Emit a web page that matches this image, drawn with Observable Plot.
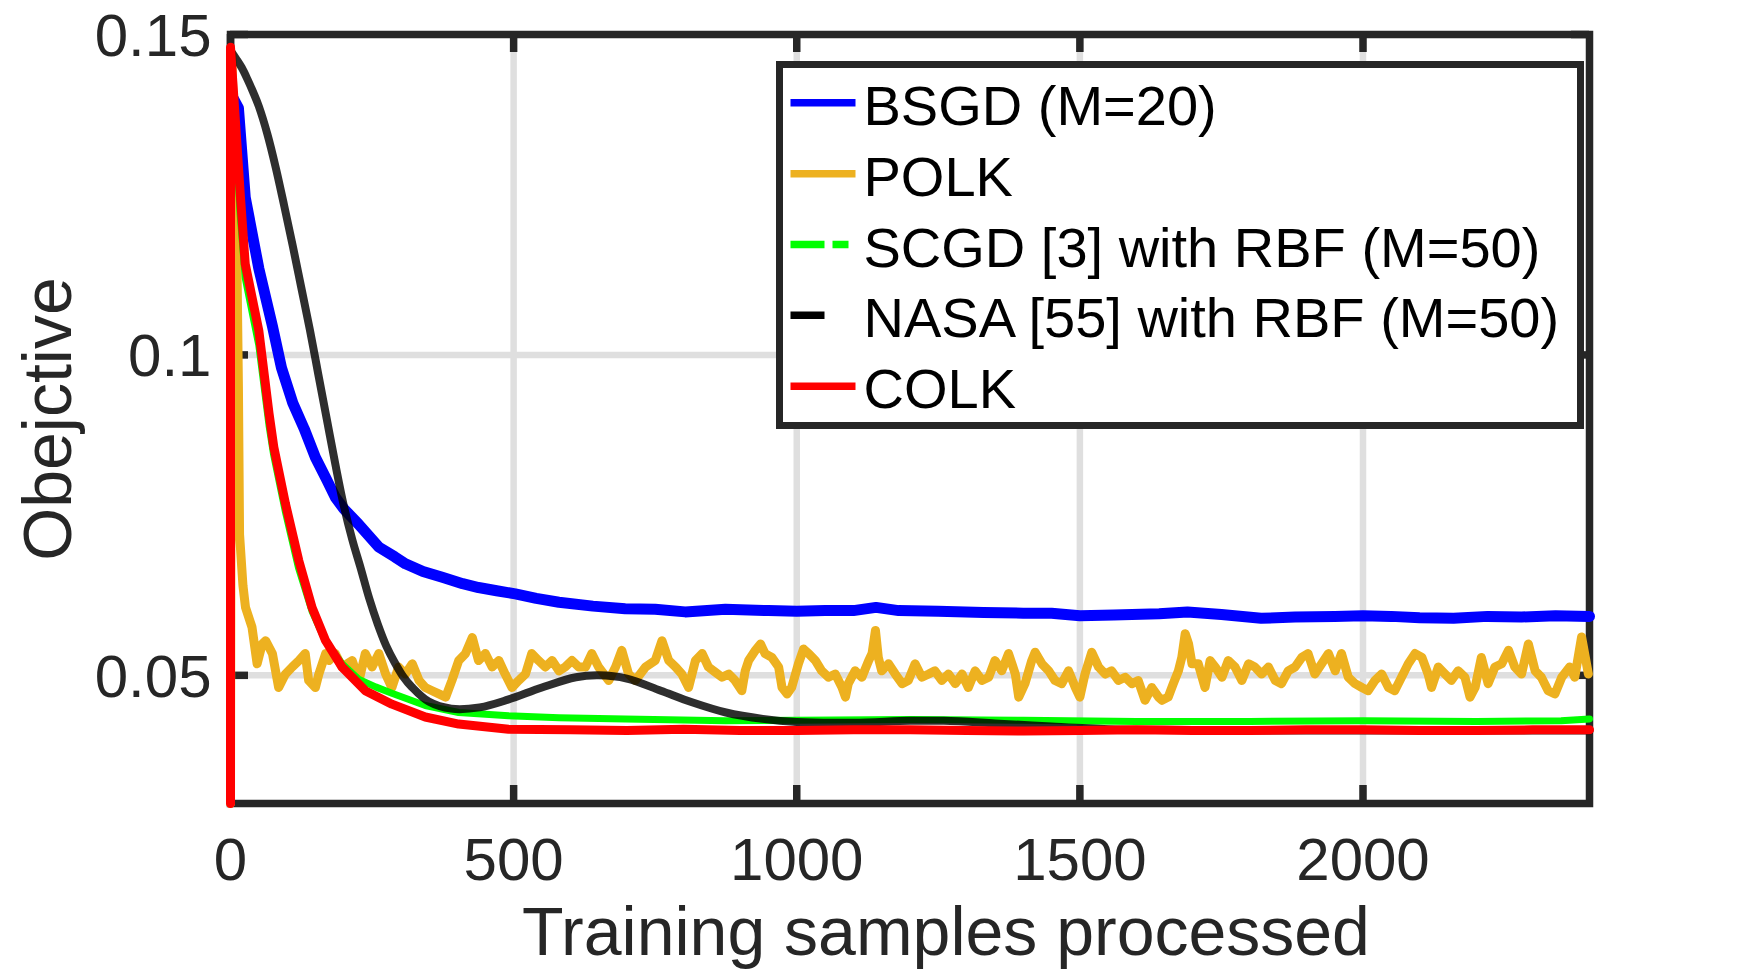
<!DOCTYPE html>
<html><head><meta charset="utf-8">
<script src="https://cdn.jsdelivr.net/npm/d3@7"></script>
<script src="https://cdn.jsdelivr.net/npm/@observablehq/plot@0.6"></script>
<style>
html,body{margin:0;padding:0;background:#fff;}
#wrap{position:relative;width:1757px;height:975px;font-family:"Liberation Sans",Arial,Helvetica,sans-serif;}
#wrap > svg{position:absolute;left:0;top:0;}
#legend{position:absolute;left:776px;top:61px;width:808px;height:368px;box-sizing:border-box;border:7.5px solid #262626;background:#fff;}
#legend svg{position:absolute;left:0;top:0;}
</style></head><body><div id="wrap"></div>
<script>
// ---- data ----
const xTicks = [0, 500, 1000, 1500, 2000];
const xTickLabels = ["0", "500", "1000", "1500", "2000"];
const yTicks = [0.05, 0.1, 0.15];
const yTickLabels = ["0.05", "0.1", "0.15"];
const xLabel = "Training samples processed";
const yLabel = "Obejctive";
const seriesNames = ["BSGD (M=20)", "POLK", "SCGD [3] with RBF (M=50)", "NASA [55] with RBF (M=50)", "COLK"];
const seriesColors = ["#0000ff", "#edb120", "#00ff00", "#000000", "#ff0000"];

const bsgd = [[5,0.1400],[14,0.1385],[26,0.1246],[50,0.1135],[74,0.1045],[90,0.0980],[110,0.0925],[130,0.0885],[150,0.0840],[170,0.0805],[185,0.0778],[200,0.0760],[226,0.0736],[262,0.0700],[290,0.0685],[309,0.0674],[340,0.0662],[374,0.0653],[410,0.0643],[438,0.0637],[470,0.0632],[503,0.0627],[540,0.0620],[580,0.0614],[640,0.0608],[697,0.0604],[750,0.0603],[803,0.0599],[874,0.0603],[950,0.0601],[1000,0.0600],[1050,0.0601],[1100,0.0601],[1140,0.0606],[1180,0.0601],[1250,0.0600],[1330,0.0598],[1400,0.0597],[1450,0.0597],[1500,0.0593],[1560,0.0594],[1640,0.0596],[1690,0.0599],[1750,0.0595],[1820,0.0589],[1880,0.0591],[1950,0.0592],[2000,0.0593],[2050,0.0592],[2100,0.0590],[2160,0.0589],[2220,0.0592],[2280,0.0591],[2340,0.0593],[2400,0.0592]];

const polk = [[0,0.030],[2,0.147],[10,0.125],[14,0.095],[16,0.072],[22,0.064],[26.5,0.0606],[38,0.0575],[47,0.0518],[56,0.0549],[62,0.0554],[74,0.0534],[85,0.0481],[97,0.0502],[109,0.0513],[121,0.0523],[132,0.0534],[138,0.0492],[150,0.0481],[156,0.0502],[168,0.0534],[174,0.0523],[185,0.0534],[197,0.0513],[215,0.0523],[227,0.0492],[238,0.0534],[250,0.0513],[262,0.0534],[274,0.0502],[285,0.0481],[297,0.0513],[309,0.0502],[321,0.0518],[333,0.0492],[344,0.0481],[356,0.0476],[368,0.0471],[380,0.0466],[391,0.0492],[403,0.0523],[415,0.0534],[427,0.0559],[438,0.0523],[450,0.0534],[462,0.0513],[474,0.0523],[485,0.0502],[497,0.0481],[509,0.0492],[521,0.0502],[532,0.0534],[544,0.0523],[556,0.0513],[568,0.0523],[580,0.0507],[591,0.0513],[603,0.0523],[615,0.0513],[627,0.0513],[638,0.0534],[650,0.0513],[668,0.0492],[680,0.0513],[691,0.0539],[703,0.0502],[715,0.0492],[733,0.0513],[750,0.0523],[762,0.0554],[774,0.0523],[786,0.0513],[797,0.0502],[809,0.0481],[821,0.0523],[833,0.0534],[844,0.0513],[856,0.0505],[868,0.0497],[880,0.0502],[891,0.0492],[903,0.0476],[909,0.0507],[915,0.0523],[927,0.0539],[936,0.0549],[944,0.0534],[956,0.0528],[968,0.0513],[974,0.0481],[983,0.0471],[991,0.0481],[1003,0.0518],[1012,0.0541],[1021,0.0534],[1033,0.0523],[1044,0.0507],[1056,0.0497],[1068,0.0502],[1080,0.0481],[1086,0.0466],[1091,0.0487],[1103,0.0507],[1115,0.0497],[1127,0.0523],[1133,0.0534],[1139,0.0570],[1144,0.0528],[1150,0.0507],[1162,0.0518],[1174,0.0502],[1186,0.0487],[1197,0.0492],[1209,0.0518],[1221,0.0497],[1233,0.0502],[1244,0.0507],[1256,0.0492],[1268,0.0502],[1280,0.0487],[1292,0.0502],[1303,0.0481],[1315,0.0507],[1327,0.0492],[1339,0.0497],[1350,0.0523],[1362,0.0507],[1374,0.0534],[1386,0.0502],[1392,0.0466],[1403,0.0487],[1415,0.0523],[1421,0.0536],[1433,0.0518],[1445,0.0507],[1456,0.0492],[1468,0.0487],[1480,0.0507],[1492,0.0481],[1500,0.0466],[1509,0.0502],[1521,0.0536],[1533,0.0513],[1545,0.0502],[1556,0.0507],[1568,0.0492],[1580,0.0497],[1592,0.0487],[1603,0.0492],[1615,0.0461],[1627,0.0481],[1639,0.0466],[1645,0.0461],[1656,0.0466],[1665,0.0487],[1674,0.0507],[1680,0.0528],[1686,0.0565],[1692,0.0549],[1698,0.0518],[1709,0.0518],[1721,0.0481],[1730,0.0523],[1739,0.0513],[1751,0.0497],[1762,0.0523],[1774,0.0513],[1786,0.0492],[1798,0.0518],[1809,0.0513],[1821,0.0502],[1833,0.0513],[1845,0.0492],[1856,0.0487],[1868,0.0507],[1880,0.0513],[1892,0.0528],[1903,0.0534],[1915,0.0502],[1927,0.0518],[1939,0.0534],[1951,0.0507],[1962,0.0534],[1974,0.0497],[1986,0.0487],[1998,0.0481],[2009,0.0476],[2021,0.0492],[2033,0.0502],[2045,0.0481],[2056,0.0476],[2068,0.0497],[2080,0.0518],[2092,0.0534],[2104,0.0528],[2115,0.0502],[2121,0.0481],[2133,0.0513],[2145,0.0502],[2156,0.0492],[2168,0.0507],[2180,0.0497],[2189,0.0466],[2198,0.0481],[2209,0.0528],[2221,0.0487],[2233,0.0513],[2245,0.0518],[2257,0.0539],[2268,0.0513],[2280,0.0502],[2292,0.0549],[2304,0.0507],[2315,0.0497],[2327,0.0476],[2339,0.0471],[2351,0.0497],[2365,0.0513],[2374,0.0497],[2386,0.0560],[2398,0.0502]];

const scgd = [[0,0.148],[9,0.134],[17,0.122],[26,0.112],[50,0.1015],[68,0.089],[76,0.0845],[97,0.0755],[120,0.0668],[144,0.0600],[168,0.0553],[197,0.0518],[226,0.0494],[256,0.0482],[285,0.0472],[344,0.0453],[403,0.0442],[491,0.0437],[580,0.0434],[697,0.0432],[874,0.0429],[1000,0.0430],[1200,0.0431],[1400,0.0430],[1600,0.0428],[1800,0.0428],[2000,0.0429],[2200,0.0428],[2350,0.0429],[2400,0.0432]];

const nasa = [[0,0.1475],[10,0.1462],[20,0.1448],[30,0.1430],[40,0.1410],[50,0.1388],[65,0.1345],[80,0.1292],[95,0.1232],[110,0.1170],[125,0.1105],[140,0.1040],[155,0.0970],[170,0.0900],[185,0.0830],[200,0.0765],[215,0.0712],[230,0.0667],[245,0.0620],[260,0.0580],[275,0.0546],[290,0.0520],[305,0.0498],[320,0.0482],[350,0.0459],[390,0.0448],[440,0.0450],[490,0.0462],[550,0.0481],[610,0.0497],[650,0.0500],[700,0.0495],[760,0.0476],[815,0.0458],[875,0.0442],[940,0.0432],[1000,0.0427],[1100,0.0426],[1200,0.0429],[1260,0.0429],[1350,0.0425],[1450,0.0420],[1550,0.0416],[1650,0.0415],[1800,0.0414],[2000,0.0414],[2200,0.0414],[2400,0.0414]];

const colk = [[0,0.030],[0,0.148],[9,0.1361],[17.6,0.1246],[26,0.1142],[50,0.1038],[68,0.0909],[76.5,0.0856],[97,0.0768],[120.6,0.0679],[144,0.0606],[168,0.0554],[197,0.0513],[238,0.0476],[285,0.0455],[344,0.0435],[403,0.0424],[491,0.0416],[600,0.0415],[700,0.0414],[800,0.0416],[900,0.0414],[1000,0.0414],[1100,0.0415],[1200,0.0415],[1300,0.0414],[1400,0.0413],[1500,0.0414],[1600,0.0415],[1700,0.0414],[1800,0.0414],[1900,0.0415],[2000,0.0415],[2100,0.0414],[2200,0.0414],[2300,0.0415],[2400,0.0415]];

// ---- styles ----
const seriesData = [bsgd, polk, scgd, nasa, colk];
const lineWidths = [11, 9, 7, 8, 9];
const lineOpacity = [1, 1, 1, 0.82, 1];
const lineCurves = ["linear", "linear", "linear", "catmull-rom", "linear"];
const FONT = '"Liberation Sans", Arial, Helvetica, sans-serif';
const AX = "#262626";

const W = 1757, H = 975;
const mL = 230, mR = 168, mT = 34, mB = 172;
const plotW = W - mL - mR, plotH = H - mT - mB;
const tickLen = 18;

const lineMarks = seriesData.map((pts, i) =>
  Plot.line(pts, {x: d => d[0], y: d => d[1], stroke: seriesColors[i], strokeWidth: lineWidths[i],
    strokeOpacity: lineOpacity[i], curve: lineCurves[i], strokeLinejoin: "round", strokeLinecap: "round"}));

const chart = Plot.plot({
  width: W, height: H,
  marginLeft: mL, marginRight: mR, marginTop: mT, marginBottom: mB,
  x: {domain: [0, 2400]},
  y: {domain: [0.03, 0.15]},
  style: {fontFamily: FONT, background: "#fff", color: AX, overflow: "visible"},
  marks: [
    Plot.gridX(xTicks, {stroke: "#dfdfdf", strokeOpacity: 1, strokeWidth: 6.5}),
    Plot.gridY(yTicks, {stroke: "#dfdfdf", strokeOpacity: 1, strokeWidth: 6.5}),
    Plot.frame({stroke: AX, strokeWidth: 7.5}),
    Plot.tickX(xTicks, {x: d => d, stroke: AX, strokeWidth: 7.5, insetTop: plotH - tickLen}),
    Plot.tickX(xTicks, {x: d => d, stroke: AX, strokeWidth: 7.5, insetBottom: plotH - tickLen}),
    Plot.tickY(yTicks, {y: d => d, stroke: AX, strokeWidth: 7.5, insetRight: plotW - tickLen}),
    Plot.tickY(yTicks, {y: d => d, stroke: AX, strokeWidth: 7.5, insetLeft: plotW - tickLen}),
    Plot.axisX(xTicks, {tickSize: 0, tickPadding: 34, fontSize: 60, fill: AX, label: null,
      tickFormat: d => xTickLabels[xTicks.indexOf(d)]}),
    Plot.axisY(yTicks, {tickSize: 0, tickPadding: 19, fontSize: 60, fill: AX, label: null, dy: 2,
      tickFormat: d => yTickLabels[yTicks.indexOf(d)]}),
    Plot.text([xLabel], {frameAnchor: "bottom", text: d => d, dx: 36, dy: 151, lineAnchor: "bottom", fontSize: 68, fill: AX}),
    Plot.text([yLabel], {frameAnchor: "left", text: d => d, rotate: -90, dx: -160, textAnchor: "middle", lineAnchor: "bottom", fontSize: 68, fill: AX}),
    ...lineMarks
  ]
});

const wrap = document.getElementById("wrap");
wrap.appendChild(chart);

// ---- legend (inside the axes box, top right) ----
const legend = d3.select(wrap).append("div").attr("id", "legend");
const lsvg = legend.append("svg").attr("width", 793).attr("height", 353);
const rowY0 = 34.8, rowStep = 70.85;
const sampleDash = [null, null, "34,8,16,200", "34,200", null];
seriesNames.forEach((name, i) => {
  const cy = rowY0 + i * rowStep;
  lsvg.append("line")
    .attr("x1", 7.5).attr("x2", 72.5).attr("y1", cy).attr("y2", cy)
    .attr("stroke", seriesColors[i]).attr("stroke-width", 7.5)
    .attr("stroke-dasharray", sampleDash[i]);
  lsvg.append("text")
    .attr("x", 80.5).attr("y", cy + 22)
    .attr("font-family", FONT).attr("font-size", 56).attr("fill", "#000")
    .text(name);
});
</script></body></html>
